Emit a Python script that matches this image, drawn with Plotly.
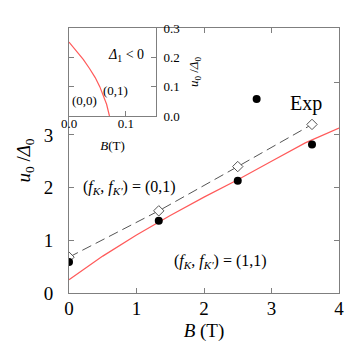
import plotly.graph_objects as go

# measured points (filled circles)
exp_b = [0, 1.33, 2.5, 2.78, 3.6]
exp_u = [0.59, 1.37, 2.13, 3.68, 2.82]

# (fK, fK') = (0,1) calculation, open diamonds
calc01_b = [0, 1.33, 2.5, 3.6]
calc01_u = [0.68, 1.56, 2.4, 3.2]

# (fK, fK') = (1,1) curve
calc11_b = [0, 0.5, 1, 1.5, 2, 2.5, 3, 3.5, 4]
calc11_u = [0.25, 0.7, 1.1, 1.47, 1.82, 2.15, 2.5, 2.85, 3.13]

# inset: boundary between (0,0) and (0,1)
inset_b = [0, 0.012, 0.025, 0.036, 0.046, 0.054, 0.06, 0.066, 0.071]
inset_u = [0.252, 0.225, 0.193, 0.162, 0.131, 0.1, 0.072, 0.04, 0]

serif = "Liberation Serif, Times New Roman, serif"
grey = "#7f7f7f"
red = "#ff5a5a"


def f(size):
    return dict(family=serif, size=size, color="black")


fig = go.Figure()

fig.add_trace(go.Scatter(x=calc11_b, y=calc11_u, mode="lines",
                         line=dict(color=red, width=1.2), showlegend=False))
fig.add_trace(go.Scatter(x=calc01_b, y=calc01_u, mode="lines+markers",
                         line=dict(color="#555555", width=1, dash="10px,5px"),
                         marker=dict(symbol="diamond", size=8, color="white",
                                     line=dict(color="#555555", width=1)),
                         showlegend=False))
fig.add_trace(go.Scatter(x=exp_b, y=exp_u, mode="markers",
                         marker=dict(symbol="circle", size=8, color="black"),
                         showlegend=False))
fig.add_trace(go.Scatter(x=inset_b, y=inset_u, mode="lines", xaxis="x2", yaxis="y2",
                         line=dict(color=red, width=1.2), showlegend=False))
# empty trace so the mirror tick axes get drawn
fig.add_trace(go.Scatter(x=[None], y=[None], xaxis="x3", yaxis="y3",
                         showlegend=False, hoverinfo="skip"))

tick = dict(ticks="inside", ticklen=5, tickcolor=grey, showgrid=False, zeroline=False)

fig.update_layout(
    width=354, height=354,
    margin=dict(l=61, r=23, t=20, b=69),
    paper_bgcolor="white", plot_bgcolor="white",
    font=f(16),
    xaxis=dict(domain=[0, 1], range=[0, 4], tickvals=[0, 1, 2, 3, 4],
               showline=True, linecolor=grey, mirror=True, ticklabelstandoff=-2,
               tickfont=f(19),
               title=dict(text="<i>B</i> (T)", font=f(19), standoff=5), **tick),
    yaxis=dict(domain=[0, 1], range=[0, 5.03], tickvals=[0, 1, 2, 3],
               showline=True, linecolor=grey, mirror=True, ticklabelstandoff=11,
               tickfont=f(19),
               title=dict(text="<i>u</i><sub>0</sub> /<i>Δ</i><sub>0</sub>",
                          font=f(19), standoff=8), **tick),
    xaxis3=dict(overlaying="x", side="top", anchor="y3", range=[0, 4], tickvals=[2, 3],
                showticklabels=False, showline=False, **tick),
    yaxis3=dict(overlaying="y", side="right", anchor="x3", range=[0, 5.03],
                tickvals=[1, 2, 3, 4], showticklabels=False, showline=False, **tick),
    xaxis2=dict(domain=[0, 0.322], anchor="y2", range=[0, 0.1526], tickvals=[0, 0.1],
                ticktext=["0.0", "0.1"], showline=True, linecolor=grey, mirror=True,
                ticklabelstandoff=-5, tickfont=f(13),
                title=dict(text="<i>B</i>(T)", font=f(13), standoff=11), **tick),
    yaxis2=dict(domain=[0.668, 1], anchor="x2", side="right", range=[0, 0.3],
                tickvals=[0, 0.1, 0.2, 0.3], ticktext=["0.0", "0.1", "0.2", "0.3"],
                showline=True, linecolor=grey, mirror="ticks", ticklabelstandoff=4,
                tickfont=f(13),
                title=dict(text="<i>u</i><sub>0</sub> /<i>Δ</i><sub>0</sub>",
                           font=f(13), standoff=10), **tick),
    annotations=[
        dict(x=3.51, y=3.6, xref="x", yref="y", text="Exp", showarrow=False,
             font=f(20)),
        dict(x=0.18, y=2.0, xref="x", yref="y", xanchor="left", showarrow=False,
             text="(<i>f</i><sub><i>K</i></sub>, <i>f</i><sub><i>K'</i></sub>) = (0,1)",
             font=f(16)),
        dict(x=1.53, y=0.6, xref="x", yref="y", xanchor="left", showarrow=False,
             text="(<i>f</i><sub><i>K</i></sub>, <i>f</i><sub><i>K'</i></sub>) = (1,1)",
             font=f(16)),
        dict(x=0.1, y=0.207, xref="x2", yref="y2", showarrow=False,
             text="<i>Δ</i><sub>1</sub> &lt; 0", font=f(14)),
        dict(x=0.081, y=0.086, xref="x2", yref="y2", showarrow=False,
             text="(0,1)", font=f(13)),
        dict(x=0.028, y=0.052, xref="x2", yref="y2", showarrow=False,
             text="(0,0)", font=f(13)),
    ],
)

fig.write_html("out.html")
